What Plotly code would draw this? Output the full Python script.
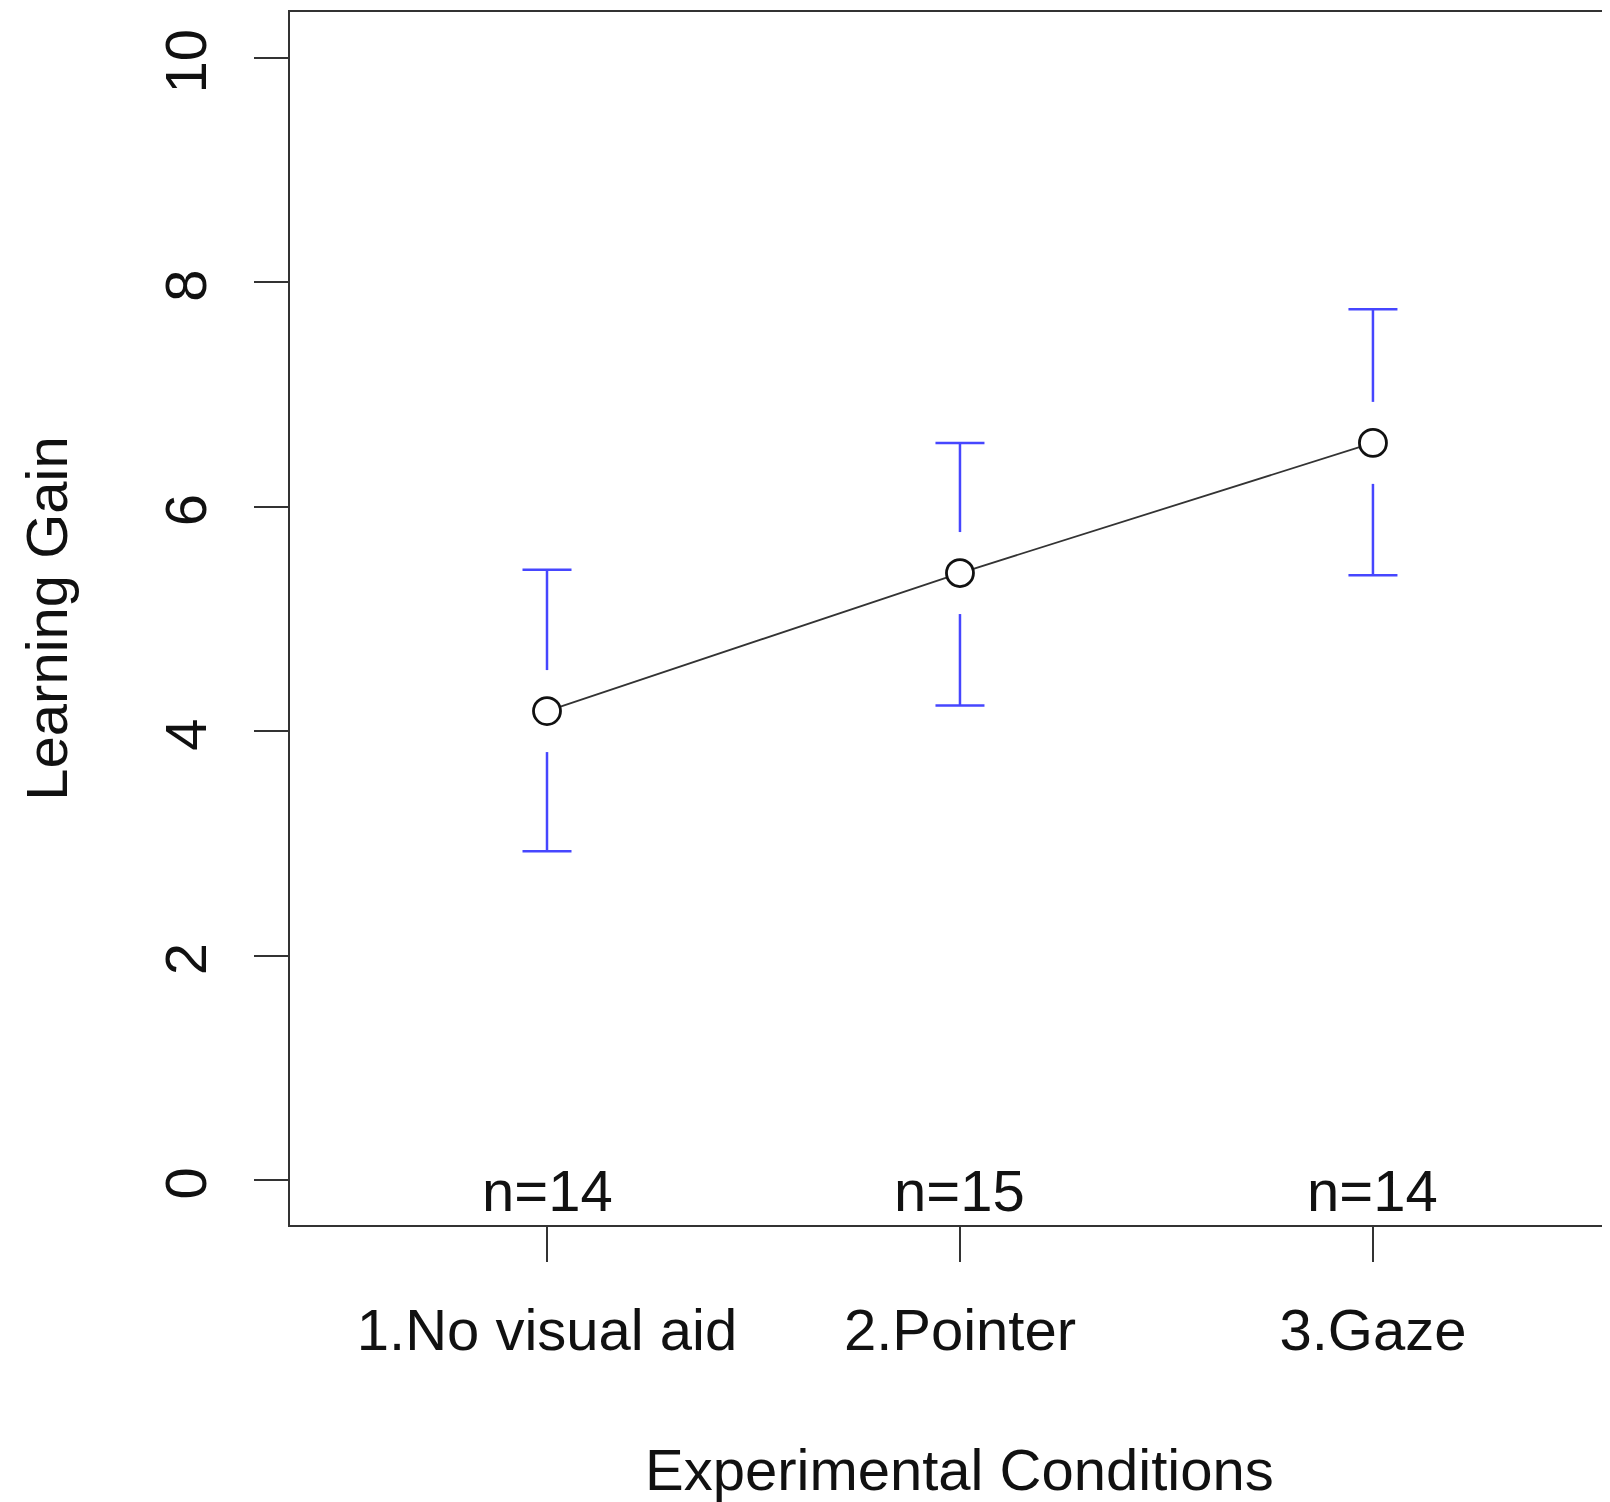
import plotly.graph_objects as go

# ---- data ----
categories = ["1.No visual aid", "2.Pointer", "3.Gaze"]
cat_pos = [1, 2, 3]
means = [4.18, 5.41, 6.57]
upper = [5.44, 6.57, 7.76]
lower = [2.93, 4.23, 5.39]
n_labels = ["n=14", "n=15", "n=14"]
y_ticks = [0, 2, 4, 6, 8, 10]
x_title = "Experimental Conditions"
y_title = "Learning Gain"

# ---- layout constants (page body has an 8px margin) ----
W, H = 1602, 1494
ML, MR, MT, MB = 282, 0, 4, 277
YR = [-0.4, 10.41]
XR = [0.3777, 3.574]
FONT = "Liberation Sans, Arial, Helvetica, sans-serif"
FS = 58
BLUE = "rgb(70,70,255)"
DARK = "#333333"

px_per_unit = (H - MT - MB) / (YR[1] - YR[0])
gap = 41 / px_per_unit  # gap around the point, in data units

# error bar stems (with gap around the point)
ex, ey = [], []
for x, m, lo, hi in zip(cat_pos, means, lower, upper):
    ex += [x, x, None, x, x, None]
    ey += [lo, m - gap, None, m + gap, hi, None]

fig = go.Figure()
fig.add_trace(go.Scatter(x=ex, y=ey, mode="lines",
                         line=dict(color=BLUE, width=2.5),
                         hoverinfo="skip", showlegend=False))
fig.add_trace(go.Scatter(x=cat_pos + cat_pos, y=upper + lower, mode="markers",
                         marker=dict(symbol="line-ew", size=35,
                                     line=dict(color=BLUE, width=2.5)),
                         hoverinfo="skip", showlegend=False))
fig.add_trace(go.Scatter(x=cat_pos, y=means, mode="lines+markers",
                         line=dict(color=DARK, width=1.8),
                         marker=dict(symbol="circle", size=27, color="white",
                                     line=dict(color="#111111", width=2.8)),
                         showlegend=False))

for x, t in zip(cat_pos, n_labels):
    fig.add_annotation(x=x, y=0, xref="x", yref="paper", text=t,
                       showarrow=False, yanchor="bottom", yshift=0,
                       font=dict(family=FONT, size=FS, color="#111111"))

# x axis title centred on the middle category, like R's plot region centre
fig.add_annotation(x=cat_pos[1], y=0, xref="x", yref="paper", text=x_title,
                   showarrow=False, yanchor="middle", yshift=-244,
                   font=dict(family=FONT, size=FS, color="#111111"))

fig.update_layout(
    width=W, height=H,
    margin=dict(l=ML, r=MR, t=MT, b=MB, autoexpand=False),
    paper_bgcolor="white", plot_bgcolor="white",
    font=dict(family=FONT, size=FS, color="#111111"),
    xaxis=dict(range=XR, tickvals=cat_pos, ticktext=categories,
               showgrid=False, zeroline=False, showline=True, mirror=True,
               linecolor=DARK, linewidth=2, ticks="outside", ticklen=35,
               tickwidth=2, tickcolor=DARK, ticklabelstandoff=18,
               automargin=False),
    yaxis=dict(range=YR, tickvals=y_ticks, showgrid=False, zeroline=False,
               showline=True, mirror=False, linecolor=DARK, linewidth=2,
               ticks="outside", ticklen=34, tickwidth=2, tickcolor=DARK,
               tickangle=-90, ticklabelstandoff=25, ticklabelshift=12,
               title=dict(text=y_title, standoff=66, font=dict(size=FS)),
               automargin=False),
)

fig.write_html("out.html")
